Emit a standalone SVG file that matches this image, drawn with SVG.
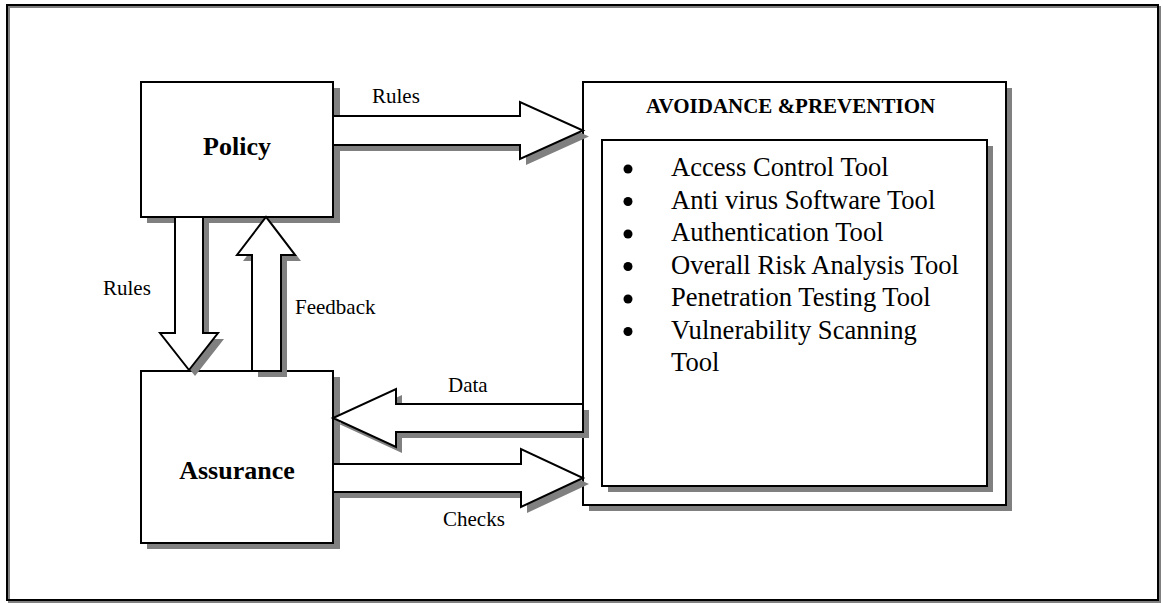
<svg xmlns="http://www.w3.org/2000/svg" width="1163" height="603" viewBox="0 0 1163 603">
  <style>
    .box { fill: #fff; stroke: #000; stroke-width: 2; }
    .shadow { fill: #808080; stroke: none; }
    .arrow { fill: #fff; stroke: #000; stroke-width: 2; stroke-linejoin: miter; }
    .lbl { font-family: "Liberation Serif", "Times New Roman", serif; font-size: 21px; fill: #000; }
    .title { font-family: "Liberation Serif", "Times New Roman", serif; font-size: 26px; font-weight: bold; fill: #000; }
    .head { font-family: "Liberation Serif", "Times New Roman", serif; font-size: 21px; font-weight: bold; fill: #000; }
    .item { font-family: "Liberation Serif", "Times New Roman", serif; font-size: 26.6px; fill: #000; }
  </style>
  <rect x="0" y="0" width="1163" height="603" fill="#fff"/>
  <g id="frame">
    <rect x="9" y="7" width="1151" height="595" fill="none" stroke="#808080" stroke-width="2"/>
    <rect x="7" y="5" width="1151" height="595" fill="none" stroke="#000" stroke-width="2"/>
  </g>
  <g id="policy">
    <rect class="shadow" x="147" y="88" width="193" height="135"/>
    <rect class="box" x="141" y="82" width="192" height="135"/>
    <text class="title" x="237" y="155" text-anchor="middle">Policy</text>
  </g>
  <g id="assurance">
    <rect class="shadow" x="147" y="377" width="193" height="172"/>
    <rect class="box" x="141" y="371" width="192" height="172"/>
    <text class="title" x="237" y="479" text-anchor="middle">Assurance</text>
  </g>
  <g id="avoidance">
    <rect class="shadow" x="589" y="88" width="423" height="423"/>
    <rect class="box" x="583" y="82" width="423" height="423"/>
    <text class="head" x="646" y="113">AVOIDANCE &amp;PREVENTION</text>
    <rect class="shadow" x="608" y="146" width="385" height="346"/>
    <rect class="box" x="602" y="140" width="385" height="346"/>
    <g class="item">
      <circle cx="628" cy="169" r="4.5"/>
      <text x="671" y="176">Access Control Tool</text>
      <circle cx="628" cy="201.5" r="4.5"/>
      <text x="671" y="208.5">Anti virus Software Tool</text>
      <circle cx="628" cy="234" r="4.5"/>
      <text x="671" y="241">Authentication Tool</text>
      <circle cx="628" cy="266.5" r="4.5"/>
      <text x="671" y="273.5">Overall Risk Analysis Tool</text>
      <circle cx="628" cy="299" r="4.5"/>
      <text x="671" y="306">Penetration Testing Tool</text>
      <circle cx="628" cy="331.5" r="4.5"/>
      <text x="671" y="338.5">Vulnerability Scanning</text>
      <text x="671" y="370.5">Tool</text>
    </g>
  </g>
  <g id="connectors">
    <g transform="translate(6,6)">
      <polygon class="shadow" points="333,116 520,116 520,102 583,130.5 520,159 520,145 333,145"/>
      <polygon class="shadow" points="175,217 203,217 203,333 218,333 189,370 160,333 175,333"/>
      <polygon class="shadow" points="252,371 252,255 237,255 266,217 295,255 281,255 281,371"/>
      <polygon class="shadow" points="583,404 396,404 396,389 333,418 396,447 396,432 583,432"/>
      <polygon class="shadow" points="333,464 521,464 521,449 583,478 521,507 521,492 333,492"/>
    </g>
    <polygon id="rules-right" class="arrow" points="333,116 520,116 520,102 583,130.5 520,159 520,145 333,145"/>
    <polygon id="rules-down" class="arrow" points="175,217 203,217 203,333 218,333 189,370 160,333 175,333"/>
    <polygon id="feedback-up" class="arrow" points="252,371 252,255 237,255 266,217 295,255 281,255 281,371"/>
    <polygon id="data-left" class="arrow" points="583,404 396,404 396,389 333,418 396,447 396,432 583,432"/>
    <polygon id="checks-right" class="arrow" points="333,464 521,464 521,449 583,478 521,507 521,492 333,492"/>
    <text class="lbl" x="372" y="103">Rules</text>
    <text class="lbl" x="103" y="295">Rules</text>
    <text class="lbl" x="295" y="314">Feedback</text>
    <text class="lbl" x="448" y="392">Data</text>
    <text class="lbl" x="443" y="526">Checks</text>
  </g>
</svg>
